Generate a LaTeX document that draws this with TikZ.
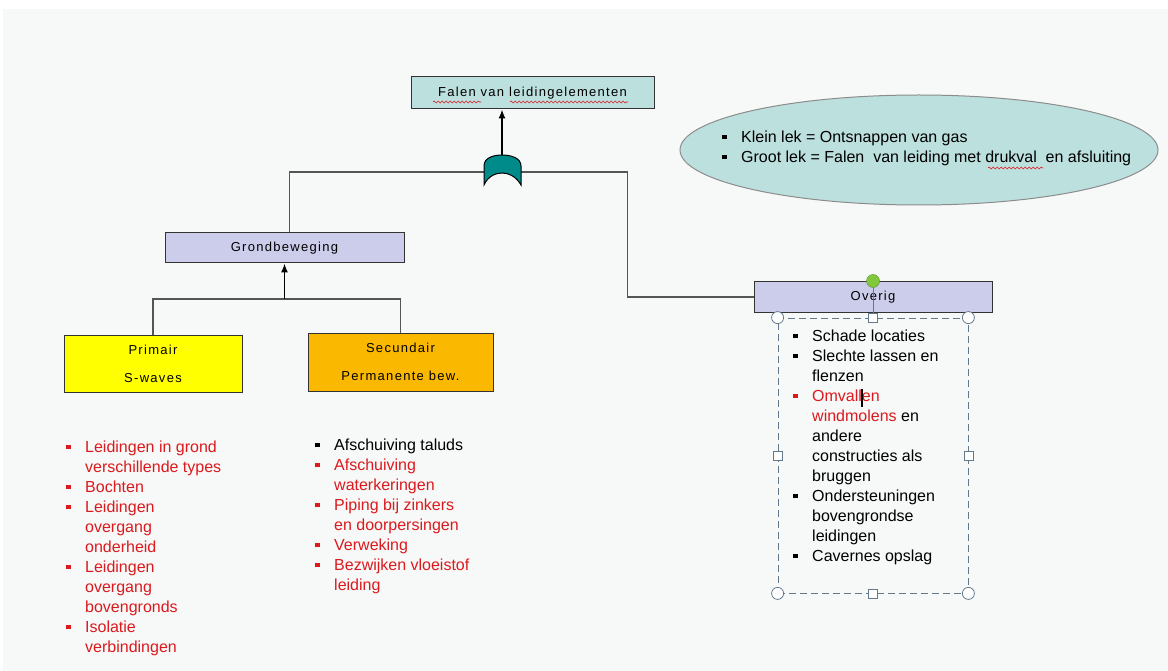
\documentclass[tikz,border=0pt]{standalone}
\usepackage{fontspec}
\setmainfont{Liberation Sans}
\newfontfamily\boxfont[LetterSpace=10]{Liberation Sans}
\usetikzlibrary{arrows.meta,shapes.geometric,decorations.pathmorphing}

\definecolor{bgcol}{RGB}{246,249,247}
\definecolor{tealbox}{RGB}{188,224,222}
\definecolor{lavbox}{RGB}{204,204,235}
\definecolor{geel}{RGB}{255,255,0}
\definecolor{oranje}{RGB}{250,185,0}
\definecolor{gatecol}{RGB}{0,139,139}
\definecolor{lijn}{RGB}{85,85,85}
\definecolor{rood}{RGB}{220,25,30}
\definecolor{handlecol}{RGB}{100,120,140}
\definecolor{groen}{RGB}{130,200,60}

% opsommingsteken en inspringing
\newcommand{\itm}[1]{\makebox[19pt][l]{\textcolor{#1}{\rule[3.5pt]{4.5pt}{4.5pt}}}}
\newcommand{\cnt}{\hspace*{19pt}}

\tikzset{
  event/.style={draw=black!80, line width=1pt, inner sep=0pt, align=center,
    font=\boxfont\fontsize{13}{28}\selectfont},
  wire/.style={draw=lijn, line width=1.3pt},
  pijl/.style={draw=black, line width=1.3pt, -{Latex[length=9pt,width=7pt]}},
  lijst/.style={anchor=north west, inner sep=0pt, align=left,
    font=\fontsize{16}{20}\selectfont},
  spell/.style={draw=rood, line width=0.6pt, decorate,
    decoration={snake, segment length=4pt, amplitude=1pt}},
  hoek/.style={circle, draw=handlecol, fill=white, line width=0.8pt, minimum size=12pt, inner sep=0pt},
  blokje/.style={rectangle, draw=handlecol, fill=white, line width=0.8pt, minimum size=9pt, inner sep=0pt},
}

\begin{document}
\begin{tikzpicture}[x=1pt,y=-1pt]
  \useasboundingbox (0,0) rectangle (1168,671);
  \fill[white] (0,0) rectangle (1168,671);
  \fill[bgcol] (3,9) rectangle (1168,671);

  % gebeurtenissen
  \node[event, fill=tealbox, minimum width=243, minimum height=32] (falen) at (532.5,93) {Falen van leidingelementen};
  \node[event, fill=lavbox, minimum width=239, minimum height=30] (grond) at (284.5,248) {Grondbeweging};
  \node[event, fill=geel, minimum width=178, minimum height=57] (primair) at (153,363.5) {Primair\\S-waves};
  \node[event, fill=oranje, minimum width=185, minimum height=58] (secundair) at (400.5,362) {Secundair\\Permanente bew.};
  \node[event, fill=lavbox, minimum width=238, minimum height=30] (overig) at (873,297) {Overig};

  % of-poort
  \coordinate (gateT) at (502,155);
  \coordinate (gateL) at (484,172);
  \coordinate (gateR) at (521,172);
  \draw[wire] (gateL) -| ([xshift=5]grond.north);
  \draw[wire] (gateR) -| ([xshift=-126]overig.west) -- (overig.west);
  \filldraw[fill=gatecol, draw=black, line width=1pt] (484,185) -- (484,166)
    .. controls (484,158) and (493,155) .. (502,155)
    .. controls (511,155) and (521,158) .. (521,166) -- (521,185)
    .. controls (516,176) and (508,173) .. (502,173)
    .. controls (496,173) and (488,176) .. (484,185) -- cycle;
  \draw[pijl] (gateT) -- (gateT |- falen.south);

  \coordinate (split) at (284.5,299);
  \draw[wire] (primair.north) |- (split) -| (secundair.north);
  \draw[pijl] (split) -- (grond.south);

  % toelichting
  \node[ellipse, draw=black!45, fill=tealbox, line width=1pt, minimum width=478, minimum height=110] (lek) at (919,150) {};
  \node[lijst] (lektekst) at (722,131) {\itm{black}Klein lek = Ontsnappen van gas\\
    \itm{black}Groot lek = Falen~ van leiding met drukval~ en afsluiting};

  % lijsten
  \node[lijst, text=rood] (primairlijst) at (66,441) {\itm{rood}Leidingen in grond\\ \cnt verschillende types\\
    \itm{rood}Bochten\\ \itm{rood}Leidingen\\ \cnt overgang\\ \cnt onderheid\\
    \itm{rood}Leidingen\\ \cnt overgang\\ \cnt bovengronds\\ \itm{rood}Isolatie\\ \cnt verbindingen};
  \node[lijst, text=rood] (secundairlijst) at (315,439) {\itm{black}\textcolor{black}{Afschuiving taluds}\\
    \itm{rood}Afschuiving\\ \cnt waterkeringen\\ \itm{rood}Piping bij zinkers\\ \cnt en doorpersingen\\
    \itm{rood}Verweking\\ \itm{rood}Bezwijken vloeistof\\ \cnt leiding};

  % geselecteerd tekstvak
  \node[draw=handlecol, line width=0.8pt, dash pattern=on 7pt off 4pt, minimum width=190, minimum height=275, inner sep=0pt] (kader) at (873,455.5) {};
  \node[lijst] (overiglijst) at (793,330) {\itm{black}Schade locaties\\ \itm{black}Slechte lassen en\\ \cnt flenzen\\
    \itm{rood}\textcolor{rood}{Omvallen}\\ \cnt\textcolor{rood}{windmolens} en\\ \cnt andere\\ \cnt constructies als\\ \cnt bruggen\\
    \itm{black}Ondersteuningen\\ \cnt bovengrondse\\ \cnt leidingen\\ \itm{black}Cavernes opslag};
  \draw[line width=2.5pt] (862,389) -- (862,407);
  \node[circle, fill=groen, draw=groen!70!black, minimum size=13pt, inner sep=0pt] (draai) at (873,281) {};
  \draw[draw=handlecol, line width=0.8pt] (draai) -- (kader.north);
  \foreach \a in {north west, north east, south west, south east}
    \node[hoek] at (kader.\a) {};
  \foreach \a in {north, south, east, west}
    \node[blokje] at (kader.\a) {};

  % spellingscontrole
  \draw[spell] (433,102) -- (481,102);
  \draw[spell] (510,102) -- (628,102);
  \draw[spell] (988,168) -- (1043,168);
\end{tikzpicture}
\end{document}
